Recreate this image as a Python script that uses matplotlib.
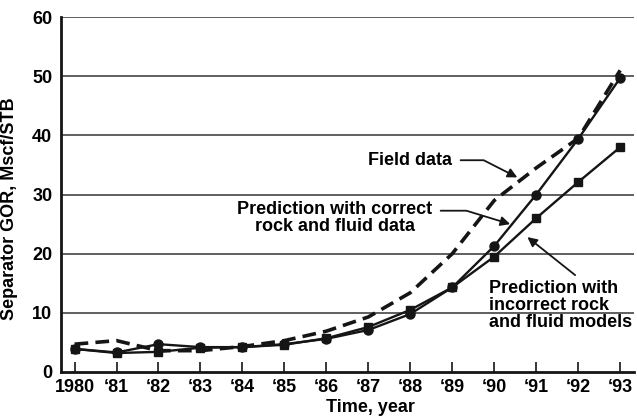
import matplotlib.pyplot as plt
import numpy as np

plt.rcParams['font.family'] = ['Liberation Sans', 'DejaVu Sans']
plt.rcParams['font.weight'] = 'bold'

# 年份与数据
years = np.arange(1980, 1994)
year_labels = ['1980', "‘81", "‘82", "‘83", "‘84", "‘85", "‘86",
               "‘87", "‘88", "‘89", "‘90", "‘91", "‘92", "‘93"]
field_data = [4.7, 5.3, 3.6, 3.6, 4.3, 5.3, 6.9, 9.3, 13.4, 20.0, 29.0, 34.5, 39.5, 51.0]
pred_correct = [3.9, 3.3, 4.7, 4.2, 4.2, 4.7, 5.6, 7.1, 9.8, 14.3, 21.3, 30.0, 39.4, 49.7]
pred_incorrect = [3.9, 3.2, 3.4, 4.1, 4.2, 4.6, 5.7, 7.6, 10.5, 14.3, 19.5, 26.0, 32.1, 38.0]
y_ticks = [0, 10, 20, 30, 40, 50, 60]

ink = '#151515'

fig = plt.figure(figsize=(6.37, 4.17), dpi=100)
ax = fig.add_axes([0.0953, 0.108, 0.9, 0.851])

for v in y_ticks[1:]:
    ax.axhline(v, color='#444444', lw=1.2, zorder=1)

ax.plot(years, field_data, color=ink, lw=2.6, dashes=(3.8, 2.0), zorder=3)
ax.plot(years, pred_correct, color=ink, lw=1.7, marker='o', ms=6.5, zorder=4)
ax.plot(years, pred_incorrect, color=ink, lw=1.7, marker='s', ms=5.8, zorder=5)

ax.set_xlim(1979.67, 1993.33)
ax.set_ylim(0, 60)
ax.set_xticks(years)
ax.set_xticklabels(year_labels, fontsize=13, fontweight='bold')
ax.set_yticks(y_ticks)
ax.set_yticklabels([str(v) for v in y_ticks], fontsize=13, fontweight='bold')
ax.tick_params(axis='x', direction='in', length=7, width=1.2, color=ink, pad=5)
ax.tick_params(axis='y', length=0, pad=6)

for s in ['top', 'right']:
    ax.spines[s].set_visible(False)
for s in ['left', 'bottom']:
    ax.spines[s].set_linewidth(2.0)
    ax.spines[s].set_color(ink)

ax.set_xlabel('Time, year', fontsize=13, fontweight='bold')
ax.xaxis.set_label_coords(0.541, -0.075)
ax.set_ylabel('Separator GOR, Mscf/STB', fontsize=13, fontweight='bold')
ax.yaxis.set_label_coords(-0.075, 0.46)

arrow = dict(arrowstyle='-|>', color=ink, lw=1.3, mutation_scale=14,
             shrinkA=4, shrinkB=0)

ax.annotate('Field data', xy=(1990.55, 32.9), xytext=(1989.0, 35.8),
            ha='right', va='center', fontsize=13, fontweight='bold',
            arrowprops=dict(arrow, connectionstyle='angle,angleA=0,angleB=-27,rad=0'))
ax.annotate('Prediction with correct\nrock and fluid data',
            xy=(1990.38, 25.0), xytext=(1986.2, 26.0),
            ha='center', va='center', fontsize=13, fontweight='bold',
            linespacing=1.0,
            arrowprops=dict(arrow, connectionstyle='angle,angleA=0,angleB=-17,rad=0',
                            relpos=(1.0, 0.72)))
ax.annotate('Prediction with\nincorrect rock\nand fluid models',
            xy=(1990.79, 22.8), xytext=(1989.88, 11.3),
            ha='left', va='center', fontsize=13, fontweight='bold',
            linespacing=1.0,
            arrowprops=dict(arrow, relpos=(0.64, 1.0), shrinkA=2))

plt.savefig('out.png', dpi=100)
